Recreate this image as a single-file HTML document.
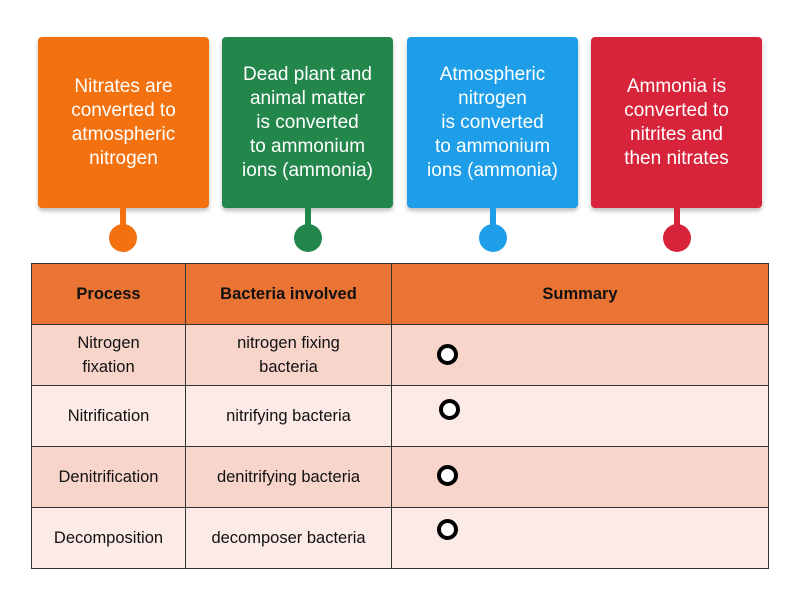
<!DOCTYPE html>
<html><head><style>
body{margin:0;width:800px;height:600px;background:#fff;position:relative;font-family:"Liberation Sans",sans-serif;overflow:hidden}
.box{position:absolute;top:37px;width:171px;height:171px;border-radius:4px;color:#fff;font-size:19px;line-height:24px;text-align:center;display:flex;align-items:center;justify-content:center;box-shadow:0 3px 4px rgba(0,0,0,.25)}
.stem{position:absolute;top:207px;width:6px;height:20px}
.dot{position:absolute;top:224px;width:28px;height:28px;border-radius:50%}
table{position:absolute;left:31px;top:263px;border-collapse:collapse;width:738px;height:306px}
td{border:1.5px solid #333;text-align:center;font-size:16.5px;color:#111;height:60px;padding:0;line-height:24px}
tr.h td{background:#ea7434;font-weight:bold}
tr.a td{background:#f7d5cb}
tr.b td{background:#fbeae6}
.ring{position:absolute;left:437px;width:13px;height:13px;border:4.5px solid #000;border-radius:50%;background:#fff}
</style></head><body>
<div class="box" style="left:38px;background:#f3720f">Nitrates are<br>converted to<br>atmospheric<br>nitrogen</div>
<div class="box" style="left:222px;background:#23864a">Dead plant and<br>animal matter<br>is converted<br>to ammonium<br>ions (ammonia)</div>
<div class="box" style="left:407px;background:#1e9ee8">Atmospheric<br>nitrogen<br>is converted<br>to ammonium<br>ions (ammonia)</div>
<div class="box" style="left:591px;background:#d7243a">Ammonia is<br>converted to<br>nitrites and<br>then nitrates</div>
<div class="stem" style="left:120px;background:#f3720f"></div><div class="dot" style="left:109px;background:#f3720f"></div>
<div class="stem" style="left:305px;background:#23864a"></div><div class="dot" style="left:294px;background:#23864a"></div>
<div class="stem" style="left:490px;background:#1e9ee8"></div><div class="dot" style="left:479px;background:#1e9ee8"></div>
<div class="stem" style="left:674px;background:#d7243a"></div><div class="dot" style="left:663px;background:#d7243a"></div>
<table>
<tr class="h"><td style="width:153px">Process</td><td style="width:205px">Bacteria involved</td><td>Summary</td></tr>
<tr class="a"><td>Nitrogen<br>fixation</td><td>nitrogen fixing<br>bacteria</td><td></td></tr>
<tr class="b"><td>Nitrification</td><td>nitrifying bacteria</td><td></td></tr>
<tr class="a"><td>Denitrification</td><td>denitrifying bacteria</td><td></td></tr>
<tr class="b"><td>Decomposition</td><td>decomposer bacteria</td><td></td></tr>
</table>
<div class="ring" style="top:344px"></div>
<div class="ring" style="top:399px;left:439px"></div>
<div class="ring" style="top:465px"></div>
<div class="ring" style="top:519px"></div>
</body></html>
